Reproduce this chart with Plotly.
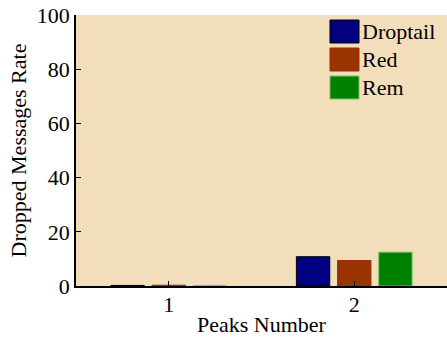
import plotly.graph_objects as go

# Dropped message rate per peak count for each queue policy
peaks = [1, 2]
droptail = [0.2, 10.8]
red = [0.3, 9.4]
rem = [0.2, 12.5]

series_names = ["Droptail", "Red", "Rem"]
series_values = [droptail, red, rem]
fill_colors = ["#000080", "#993300", "#008000"]
edge_colors = ["#000000", "#993300", "#7fbf6f"]

FONT = "Liberation Serif"
BG = "#F3DEBB"

fig = go.Figure()
for name, vals, fc, ec in zip(series_names, series_values, fill_colors, edge_colors):
    fig.add_trace(go.Bar(
        x=peaks, y=vals, name=name,
        marker=dict(color=fc, line=dict(color=ec, width=1)),
        showlegend=False,
    ))

# Legend drawn as large swatches with labels in the upper right corner
L, T, W, H = 76, 15, 371, 271
def px(x):
    return (x - L) / W
def py(y):
    return (T + H - y) / H

swatch_tops = [20, 48, 76]
for name, fc, ec, top in zip(series_names, fill_colors, edge_colors, swatch_tops):
    fig.add_shape(type="rect", xref="paper", yref="paper",
                  x0=px(330), x1=px(359), y0=py(top + 23), y1=py(top),
                  fillcolor=fc, line=dict(color=ec, width=1))
    fig.add_annotation(xref="paper", yref="paper", x=px(360), y=py(top + 11.5),
                       text=name, showarrow=False, xanchor="left", yanchor="middle",
                       font=dict(family=FONT, size=22, color="black"))

fig.update_layout(
    width=447, height=341,
    margin=dict(l=L, r=447 - L - W, t=T, b=341 - T - H),
    paper_bgcolor="white", plot_bgcolor=BG,
    barmode="group", bargap=0.334, bargroupgap=0.19,
    font=dict(family=FONT, size=22, color="black"),
)
fig.update_xaxes(
    range=[0.5, 2.5], tickvals=peaks, ticktext=[str(p) for p in peaks],
    ticks="inside", ticklen=5, tickcolor="black",
    showline=True, linecolor="black", linewidth=1.5,
    showgrid=False, zeroline=False, ticklabelstandoff=-2,
    title=dict(text="Peaks Number", font=dict(family=FONT, size=22), standoff=0),
)
fig.update_yaxes(
    range=[0, 100], tickvals=[0, 20, 40, 60, 80, 100],
    ticks="inside", ticklen=5, tickcolor="black",
    showline=True, linecolor="black", linewidth=1.5,
    showgrid=False, zeroline=False, ticklabelstandoff=0,
    title=dict(text="Dropped Messages Rate", font=dict(family=FONT, size=22), standoff=4),
)

fig.write_html("out.html")
